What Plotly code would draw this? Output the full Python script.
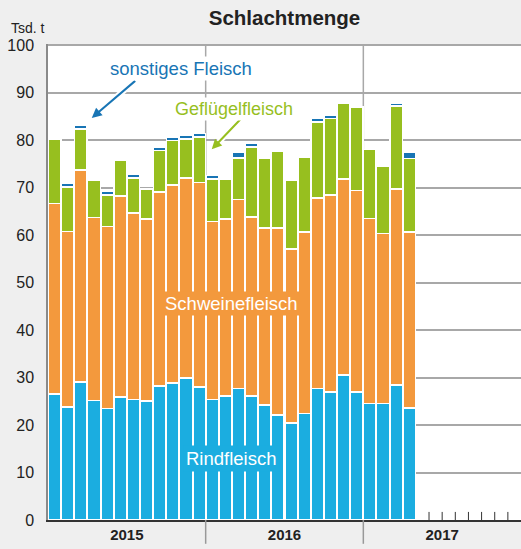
import plotly.graph_objects as go

# ---- data (Tsd. t), monthly Jan 2015 - Apr 2017 ----
years = ["2015", "2016", "2017"]
months_per_year = 12
rindfleisch = [26.6, 23.8, 29.1, 25.2, 23.5, 25.9, 25.4, 25.1, 28.2, 28.9, 29.9, 28.0,
               25.4, 26.1, 27.7, 26.1, 24.2, 22.1, 20.4, 22.4, 27.7, 27.0, 30.6, 27.0,
               24.5, 24.5, 28.5, 23.6]
schweinefleisch = [40.1, 37.0, 44.6, 38.5, 38.3, 42.4, 39.3, 38.3, 40.9, 41.7, 42.2, 43.1,
                   37.5, 37.3, 39.8, 37.7, 37.3, 39.4, 36.7, 38.3, 40.2, 41.5, 41.3, 42.4,
                   39.0, 35.9, 41.3, 37.1]
gefluegelfleisch = [13.5, 9.4, 8.7, 7.9, 6.7, 7.5, 7.4, 6.3, 8.8, 9.4, 8.2, 9.6,
                    9.0, 8.4, 8.8, 14.8, 14.7, 16.2, 14.5, 15.8, 16.0, 16.1, 16.0, 17.6,
                    14.6, 14.2, 17.4, 15.5]
sonstiges = [None, 0.7, 0.7, 0.5, 0.7, None, 0.7, None, 0.7, 0.7, 0.7, 0.7,
             0.7, None, 1.1, 0.7, None, None, None, None, 0.7, 0.7, None, None,
             None, None, 0.7, 1.2]
y_ticks = [0, 10, 20, 30, 40, 50, 60, 70, 80, 90, 100]

C_RIND = "#1badE0"
C_SCHWEIN = "#f3993d"
C_GEFL = "#97bf1f"
C_SONST = "#1875b5"
FONT = "Liberation Sans, Arial, sans-serif"

x = list(range(len(rindfleisch)))
n_months = months_per_year * len(years)

fig = go.Figure()
for name, vals, col in [("Rindfleisch", rindfleisch, C_RIND),
                        ("Schweinefleisch", schweinefleisch, C_SCHWEIN),
                        ("Geflügelfleisch", gefluegelfleisch, C_GEFL),
                        ("sonstiges Fleisch", sonstiges, C_SONST)]:
    fig.add_trace(go.Bar(x=x, y=vals, name=name, marker_color=col,
                         marker_line_color="white", marker_line_width=1.5,
                         hoverinfo="skip"))

shapes = []
# year separators inside plot and below axis
for k in range(1, len(years)):
    xb = k * months_per_year - 0.5
    shapes.append(dict(type="line", xref="x", yref="y", x0=xb, x1=xb, y0=0, y1=100,
                       line=dict(color="#a8a8a8", width=1.5), layer="below"))
    shapes.append(dict(type="line", xref="x", yref="paper", x0=xb, x1=xb, y0=0, y1=-0.05,
                       line=dict(color="#999999", width=1.5), layer="above"))
# small month ticks where there are no bars yet
for m in range(len(rindfleisch), n_months - 1):
    shapes.append(dict(type="line", xref="x", yref="y", x0=m + 0.5, x1=m + 0.5, y0=0, y1=1.7,
                       line=dict(color="#333333", width=1), layer="below"))

annotations = [
    dict(text="Tsd. t", xref="paper", yref="paper", x=-0.082, y=1.033, xanchor="left",
         yanchor="middle", showarrow=False, font=dict(family=FONT, size=14, color="#222")),
    # white halos for arrows
    dict(x=2.83, y=84.7, ax=6.25, ay=92.8, axref="x", ayref="y", xref="x", yref="y",
         text="", showarrow=True, arrowhead=0, arrowwidth=6, arrowcolor="white"),
    dict(x=11.96, y=78.1, ax=14.24, ay=84.7, axref="x", ayref="y", xref="x", yref="y",
         text="", showarrow=True, arrowhead=0, arrowwidth=6, arrowcolor="white"),
    dict(x=2.83, y=84.7, ax=6.25, ay=92.8, axref="x", ayref="y", xref="x", yref="y",
         text="", showarrow=True, arrowhead=2, arrowsize=1, arrowwidth=2, arrowcolor=C_SONST),
    dict(x=11.96, y=78.1, ax=14.24, ay=84.7, axref="x", ayref="y", xref="x", yref="y",
         text="", showarrow=True, arrowhead=2, arrowsize=1, arrowwidth=2, arrowcolor=C_GEFL),
    dict(text="sonstiges Fleisch", x=9.66, y=95.2, xref="x", yref="y", showarrow=False,
         bgcolor="white", borderpad=1, font=dict(family=FONT, size=18.5, color=C_SONST)),
    dict(text="Geflügelfleisch", x=13.67, y=86.7, xref="x", yref="y", showarrow=False,
         bgcolor="white", borderpad=1, font=dict(family=FONT, size=18, color=C_GEFL)),
    dict(text="Schweinefleisch", x=13.43, y=45.6, xref="x", yref="y", showarrow=False,
         bgcolor=C_SCHWEIN, borderpad=1, font=dict(family=FONT, size=18.5, color="white")),
    dict(text="Rindfleisch", x=13.47, y=13.0, xref="x", yref="y", showarrow=False,
         bgcolor=C_RIND, borderpad=2, font=dict(family=FONT, size=18.5, color="white")),
]

fig.update_layout(
    width=521, height=549,
    margin=dict(l=48, r=0, t=44, b=29, autoexpand=False),
    paper_bgcolor="#efefef", plot_bgcolor="white",
    barmode="stack", bargap=0.04, showlegend=False,
    title=dict(text="<b>Schlachtmenge</b>", x=0.5, xref="paper", y=1 - 18 / 549,
               yanchor="middle", xanchor="center",
               font=dict(family=FONT, size=20.5, color="#222")),
    xaxis=dict(range=[-0.5, n_months - 0.5], showgrid=False, zeroline=False,
               showline=True, linecolor="#333333", linewidth=2,
               tickvals=[k * months_per_year + (months_per_year - 1) / 2 for k in range(len(years))],
               ticktext=["<b>%s</b>" % yv for yv in years], ticks="",
               tickfont=dict(family=FONT, size=15, color="#222"), fixedrange=True),
    yaxis=dict(range=[0, 100.3], tickvals=y_ticks, showgrid=True, gridcolor="#a8a8a8",
               gridwidth=1.5, zeroline=False, showline=True, linecolor="#8a8a8a",
               linewidth=1.5, ticks="", ticklabelstandoff=9,
               tickfont=dict(family=FONT, size=16, color="#222"), fixedrange=True),
    shapes=shapes, annotations=annotations,
)

fig.write_html(
    "out.html",
    config={"displayModeBar": False},
    post_script="document.body.style.margin='0';document.body.style.background='#efefef';",
)
